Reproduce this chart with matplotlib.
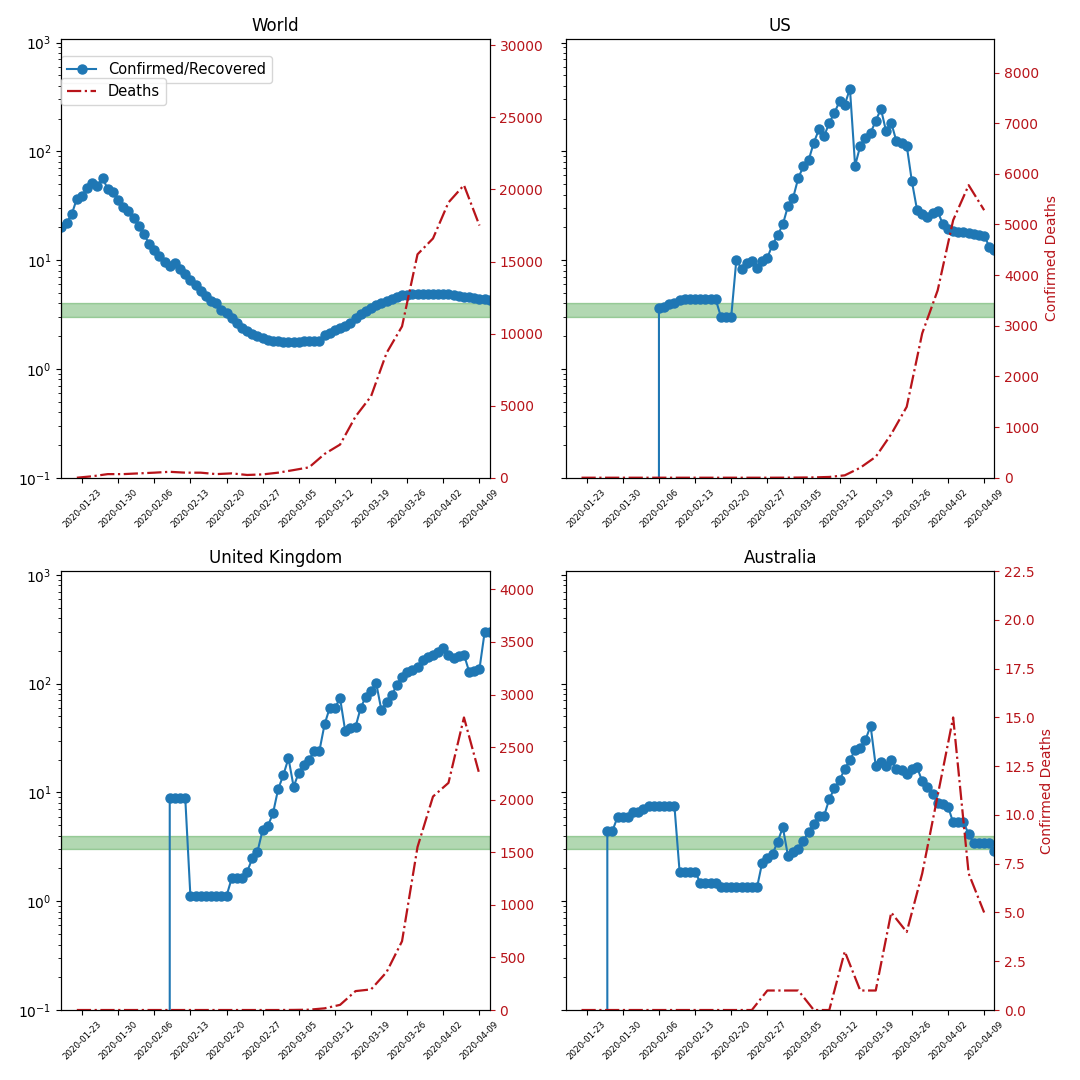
import numpy as np
import pandas as pd
import matplotlib
matplotlib.use('Agg')
import matplotlib.pyplot as plt
import matplotlib.dates as mdates

nan = np.nan

# daily Confirmed/Recovered ratio, 2020-01-19 .. 2020-04-11
ratio_dates = pd.date_range('2020-01-19', '2020-04-11', freq='D')
# deaths summed over 3 days, 2020-01-22 .. 2020-04-09
death_dates = pd.date_range('2020-01-22', '2020-04-09', freq='3D')
tick_dates = pd.date_range('2020-01-23', '2020-04-09', freq='7D')

countries = ['World', 'US', 'United Kingdom', 'Australia']

world_ratio = [20.2, 22, 26.3, 36.6, 38.8, 46, 51, 48.5, 57, 44.7,
               42, 35.5, 31, 28.2, 24.5, 20.5, 17.2, 14.2, 12.5, 10.9,
               9.6, 8.8, 9.5, 8.3, 7.4, 6.5, 5.85, 5.2, 4.67, 4.2,
               4.0, 3.47, 3.28, 2.95, 2.66, 2.39, 2.23, 2.1, 2.0, 1.94,
               1.86, 1.81, 1.79, 1.78, 1.78, 1.78, 1.78, 1.79, 1.8, 1.81,
               1.82, 2.07, 2.14, 2.3, 2.38, 2.5, 2.65, 2.95, 3.2, 3.4,
               3.65, 3.9, 4.05, 4.2, 4.4, 4.6, 4.75, 4.8, 4.85, 4.85,
               4.85, 4.85, 4.87, 4.87, 4.85, 4.85, 4.75, 4.65, 4.6, 4.55,
               4.5, 4.4, 4.35, 4.3]

us_ratio = [nan] * 17 + [0, 3.65, 3.7, 3.95, 4.05, 4.3,
            4.35, 4.35, 4.35, 4.35, 4.35, 4.35, 4.35,
            3.02, 3.02, 3.02, 10.1, 8.3, 9.45, 9.8, 8.5, 9.8, 10.5,
            13.9, 16.9, 21.3, 31.4, 37.5, 57, 73, 83, 120, 159,
            138, 183, 226, 289, 269, 376, 74, 112, 133, 148,
            190, 246, 153, 183, 124, 118, 113, 53, 29, 26.8,
            24.8, 27.2, 28.2, 21.3, 19.4, 18.5, 18.2, 18.0, 17.8, 17.2,
            16.9, 16.8, 13.3, 12.5]

uk_ratio = [nan] * 20 + [0, 8.95, 8.95, 8.95, 8.95,
            1.12, 1.12, 1.12, 1.12, 1.12, 1.12, 1.12, 1.12,
            1.62, 1.62, 1.62, 1.87, 2.48, 2.86, 4.52,
            4.91, 6.42, 10.7, 14.4, 20.6, 11.3, 15.2, 17.9, 19.9, 24.2,
            24.2, 42.3, 60, 60, 73.3, 36.6, 38.8, 40.2, 60, 76,
            85.5, 100.5, 57.2, 68.2, 78.6, 97, 116, 129, 133, 143,
            165, 177, 185, 196, 211, 183, 171, 179, 185, 129,
            130, 136, 296, 296]

au_ratio = [nan] * 7 + [0, 4.45, 4.45, 5.98, 5.98, 5.98, 6.56, 6.56, 7.0,
            7.5, 7.5, 7.5, 7.5, 7.5, 7.5,
            1.87, 1.87, 1.87, 1.87, 1.48, 1.48, 1.48, 1.48,
            1.34, 1.34, 1.34, 1.34, 1.34, 1.34, 1.34, 1.34,
            2.26, 2.48, 2.72, 3.52, 4.78, 2.6, 2.85, 3.0, 3.6, 4.35,
            5.13, 6.07, 6.1, 8.7, 10.9, 13, 16.4, 19.9, 24.5, 25.4,
            30.3, 41, 17.5, 19.2, 17.5, 19.9, 16.3, 16.1, 14.8, 16.3,
            17, 12.7, 11.1, 9.7, 8.0, 7.75, 7.4, 5.3, 5.3, 5.3,
            4.15, 3.4, 3.4, 3.4, 3.4, 2.9]

world_deaths = [0, 100, 250, 250, 300, 350, 410, 350, 350, 250,
                300, 190, 230, 350, 530, 720, 1650, 2300, 4250, 5650,
                8650, 10500, 15500, 16600, 19100, 20300, 17500]
us_deaths = [0, 0, 0, 0, 0, 0, 0, 0, 0, 0,
             0, 0, 0, 1, 3, 6, 15, 47, 197, 413,
             860, 1400, 2850, 3700, 5085, 5776, 5282]
uk_deaths = [0, 0, 0, 0, 0, 0, 0, 0, 0, 0,
             0, 0, 0, 0, 1, 3, 16, 49, 180, 196,
             360, 654, 1550, 2030, 2160, 2782, 2240]
au_deaths = [0, 0, 0, 0, 0, 0, 0, 0, 0, 0,
             0, 0, 1, 1, 1, 0, 0, 3, 1, 1,
             5, 4, 7, 11, 15, 7, 5]

ratios = [world_ratio, us_ratio, uk_ratio, au_ratio]
deaths_all = [world_deaths, us_deaths, uk_deaths, au_deaths]

red = '#b8141a'

fig, axes = plt.subplots(2, 2, figsize=(10.8, 10.8), dpi=100, sharey=True)
plt.subplots_adjust(left=0.0568, right=0.9208, top=0.964, bottom=0.0648,
                    wspace=0.178, hspace=0.213)

for n, (ax, name, ratio, deaths) in enumerate(zip(axes.flat, countries, ratios, deaths_all)):
    ax.axhspan(3, 4, color='green', alpha=0.3)
    ax.plot(ratio_dates, ratio, 'o-', color='tab:blue', markersize=6.5,
            label='Confirmed/Recovered')
    ax.set_yscale('log')
    ax.set_ylim(0.1, 1080)
    ax.set_xlim(ratio_dates[0], ratio_dates[-1])
    ax.set_title(name)

    ax2 = ax.twinx()
    ax2.plot(death_dates, deaths, '-.', color=red, linewidth=1.6, label='Deaths')
    ax2.set_ylim(0, 1.5 * max(deaths))
    ax2.tick_params(axis='y', colors=red)
    if n % 2 == 1:
        ax2.set_ylabel('Confirmed Deaths', color=red)

    ax.set_xticks(tick_dates)
    ax.xaxis.set_major_formatter(mdates.DateFormatter('%Y-%m-%d'))
    ax.tick_params(axis='x', labelrotation=45, labelsize=6.2)

    if n == 0:
        ax.legend(loc=(0, 0.9), fontsize=10.5)
        ax2.legend(loc=(0, 0.85), fontsize=10.5)

plt.savefig('out.png', dpi=100)
